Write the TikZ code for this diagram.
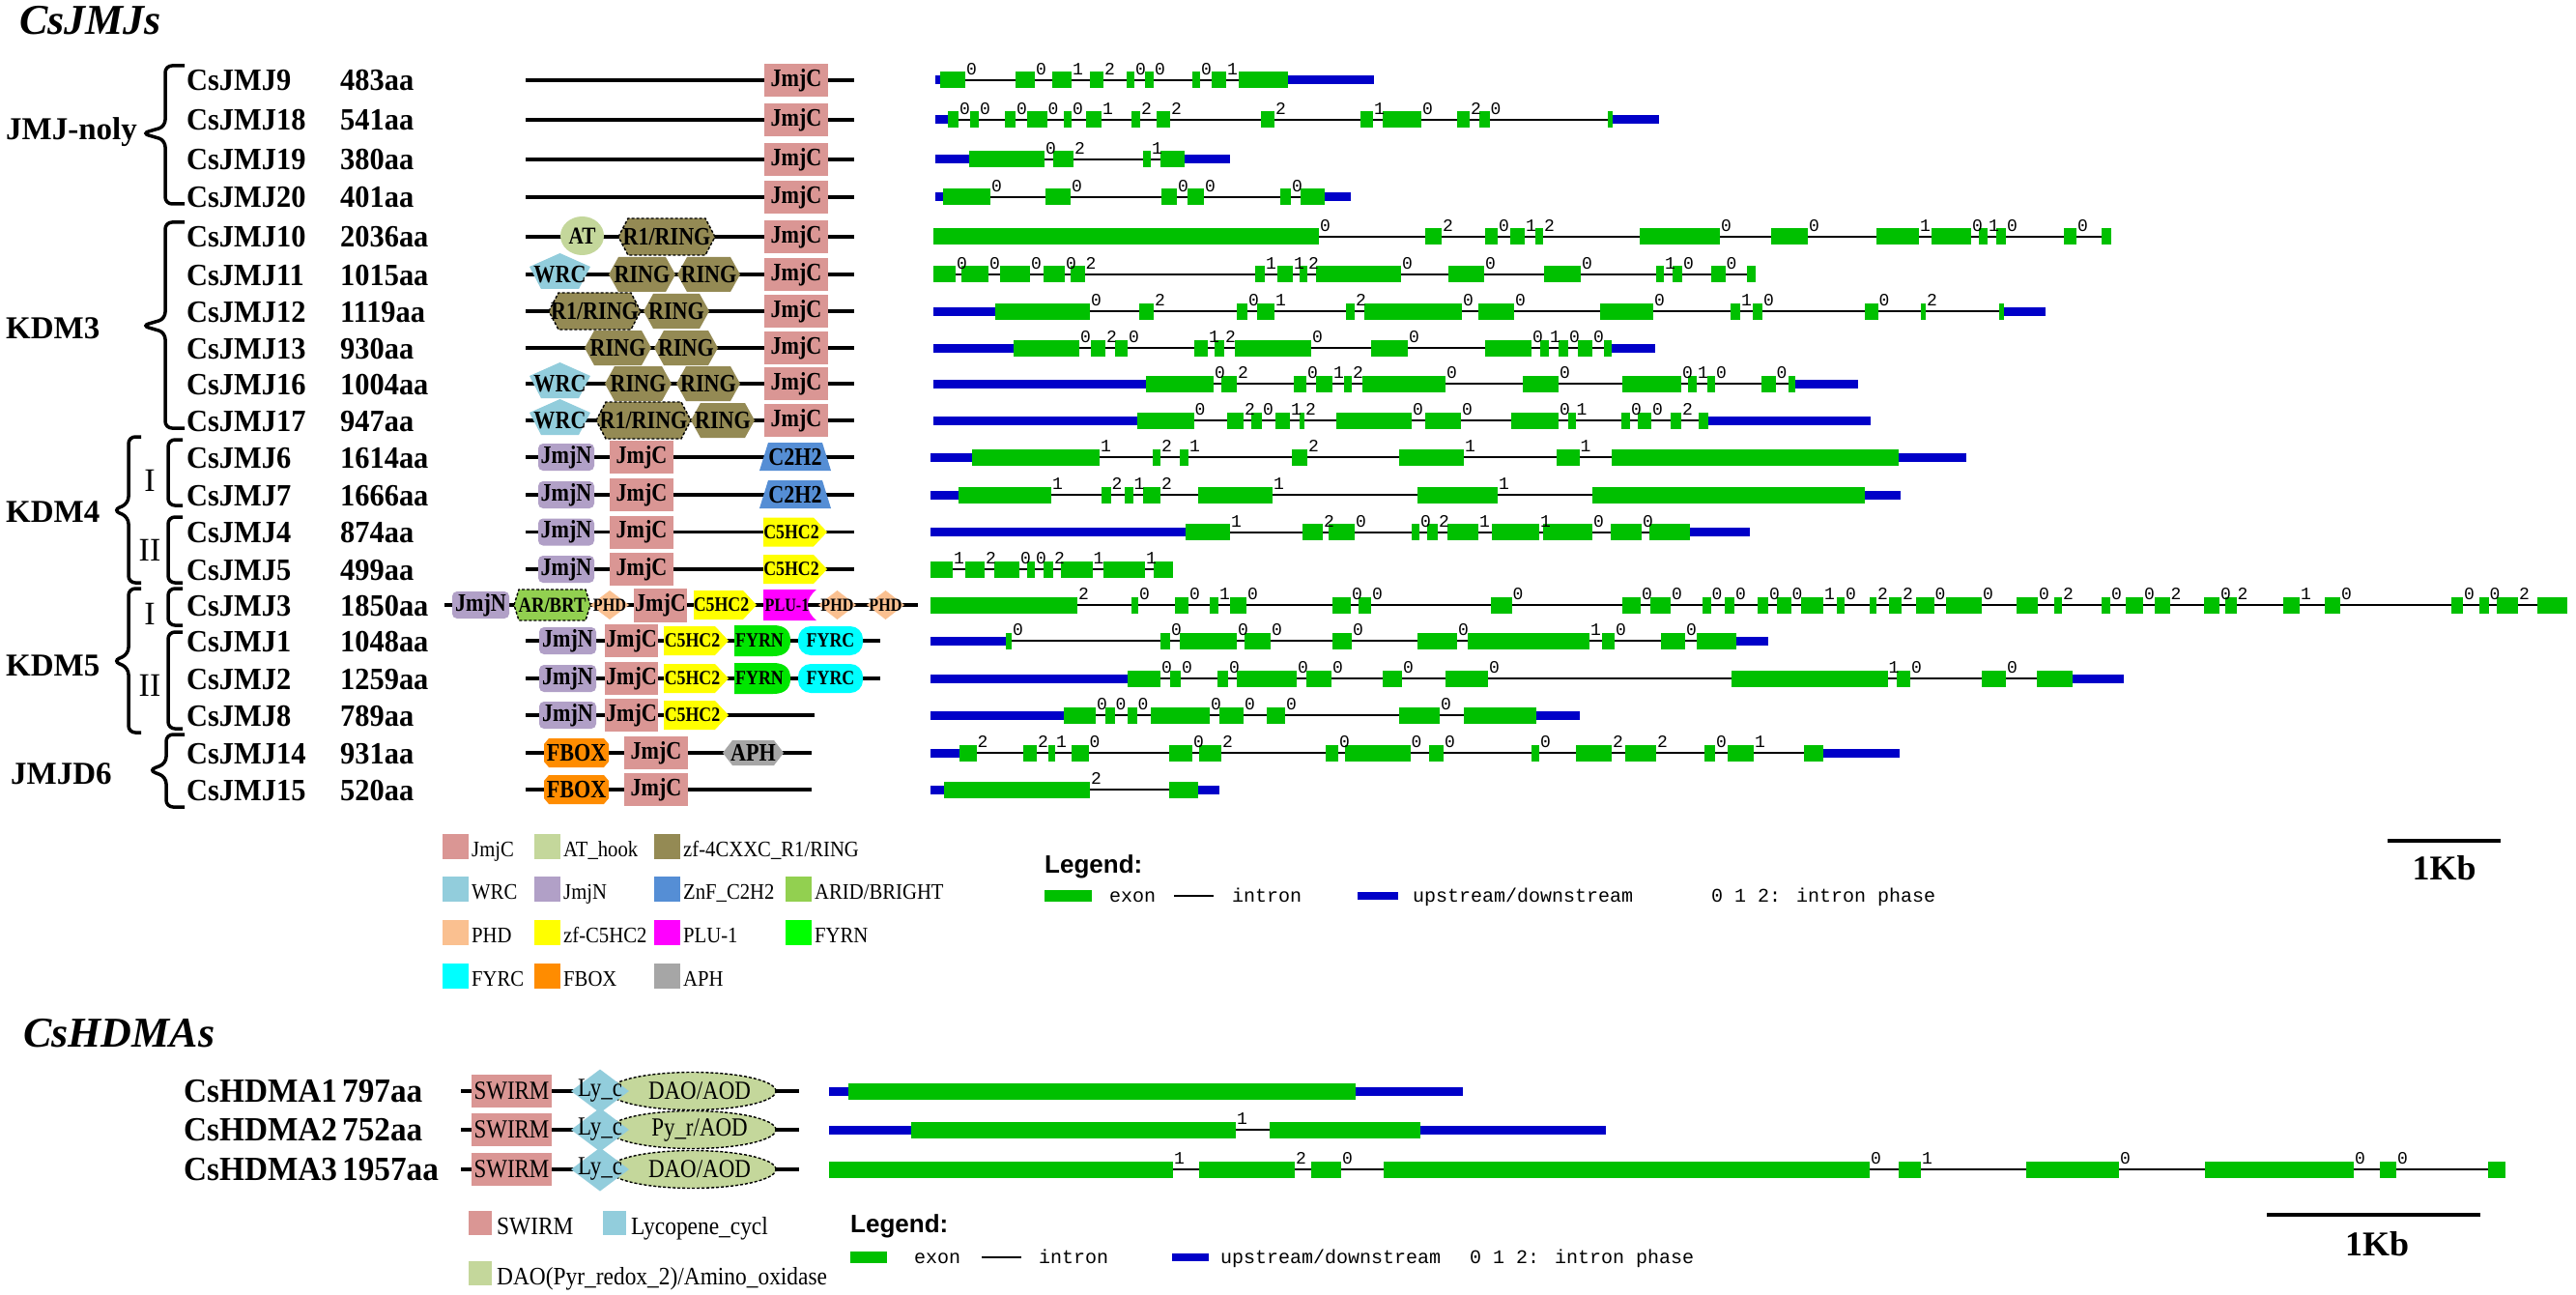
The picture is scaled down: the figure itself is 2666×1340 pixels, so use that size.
\documentclass[tikz,border=0pt]{standalone}
\usepackage{fontspec}
\setmainfont{Liberation Serif}
\newfontfamily\genefont[FakeStretch=0.95]{Liberation Serif}
\newfontfamily\domfont[FakeStretch=0.85]{Liberation Serif}
\newfontfamily\legfont[FakeStretch=0.9]{Liberation Serif}
\newfontfamily\phfont{Liberation Mono}
\newfontfamily\legsans{Liberation Sans}
\usetikzlibrary{shapes.geometric}
\newcommand\fsz[1]{\fontsize{#1}{#1}\selectfont}
\definecolor{cJmjC}{HTML}{DA9694}
\definecolor{cAT}{HTML}{C4D79B}
\definecolor{cRING}{HTML}{948A54}
\definecolor{cWRC}{HTML}{92CDDC}
\definecolor{cJmjN}{HTML}{B1A0C7}
\definecolor{cC2H2}{HTML}{558ED5}
\definecolor{cARID}{HTML}{92D050}
\definecolor{cPHD}{HTML}{FAC090}
\definecolor{cC5}{HTML}{FFFF00}
\definecolor{cPLU}{HTML}{FF00FF}
\definecolor{cFYRN}{HTML}{00E600}
\definecolor{cFYRNl}{HTML}{00FF00}
\definecolor{cFYRC}{HTML}{00FFFF}
\definecolor{cFBOX}{HTML}{FF8C00}
\definecolor{cAPH}{HTML}{A6A6A6}
\definecolor{cExon}{HTML}{00C000}
\definecolor{cUTR}{HTML}{0000C8}
% domain shapes
\newcommand\bbone[4]{\coordinate (#1s) at (#2,#4); \coordinate (#1e) at (#3,#4); \draw[bbline] (#1s) -- (#1e);}
\newcommand\dRect[7]{\path[#1] (#3,#5-#6) rectangle (#4,#5+#6); \node[lab] (#2) at ({(#3+#4)/2},#5) {#7};}
\newcommand\dHex[8]{\path[#1] (#3,#5) -- (#3+#7,#5-#6) -- (#4-#7,#5-#6) -- (#4,#5) -- (#4-#7,#5+#6) -- (#3+#7,#5+#6) -- cycle; \node[lab] (#2) at ({(#3+#4)/2},#5) {#8};}
\newcommand\dPent[5]{\path[fill=cWRC] ({(#2+#3)/2},#4-22) -- (#3,#4-8) -- ({#3-0.19*(#3-#2)},#4+15) -- ({#2+0.19*(#3-#2)},#4+15) -- (#2,#4-8) -- cycle; \node[lab] (#1) at ({(#2+#3)/2},#4) {#5};}
\newcommand\dDia[7]{\path[#1] (#3,#5) -- ({(#3+#4)/2},#5-#6) -- (#4,#5) -- ({(#3+#4)/2},#5+#6) -- cycle; \node[lab] (#2) at ({(#3+#4)/2},#5) {#7};}
\newcommand\dSig[6]{\path[fill=cC5] (#2,#4-#5) -- (#3-14,#4-#5) -- (#3,#4) -- (#3-14,#4+#5) -- (#2,#4+#5) -- cycle; \node[lab] (#1) at ({(#2+#3)/2-4},#4) {\fsz{21}#6};}
\newcommand\dTrap[5]{\path[fill=cC2H2] (#2+9,#4-15) -- (#3-9,#4-15) -- (#3,#4+14) -- (#2,#4+14) -- cycle; \node[lab] (#1) at ({(#2+#3)/2},#4) {#5};}
\newcommand\dPlu[5]{\path[fill=cPLU] (#2,#4-16) -- (#3,#4-16) .. controls (#3-12,#4-6) and (#3-12,#4+6) .. (#3,#4+16) -- (#2,#4+16) -- cycle; \node[lab] (#1) at ({(#2+#3)/2-3},#4) {\fsz{19}#5};}
\newcommand\dFyrn[5]{\path[fill=cFYRN] (#2,#4-16) -- (#3-18,#4-16) .. controls (#3-3,#4-16) and (#3,#4-8) .. (#3,#4) .. controls (#3,#4+8) and (#3-3,#4+16) .. (#3-18,#4+16) -- (#2,#4+16) -- cycle; \node[lab] (#1) at ({(#2+#3)/2-3},#4) {\fsz{21}#5};}
\newcommand\dFyrc[5]{\path[fill=cFYRC, rounded corners=13pt] (#2,#4-15) rectangle (#3,#4+15); \node[lab] (#1) at ({(#2+#3)/2},#4) {\fsz{21}#5};}
\newcommand\dFbox[5]{\path[fill=cFBOX] (#2+5,#4-15) -- (#3-5,#4-15) -- (#3,#4-9) -- (#3,#4+9) -- (#3-5,#4+15) -- (#2+5,#4+15) -- (#2,#4+9) -- (#2,#4-9) -- cycle; \node[lab] (#1) at ({(#2+#3)/2},#4) {#5};}
\newcommand\hdom[3]{%
  \coordinate (hb#1s) at (477,#2); \coordinate (hb#1e) at (827,#2);
  \draw[bbline] (hb#1s) -- (hb#1e);
  \fill[cJmjC] (488,#2-17) rectangle (571,#2+17);
  \node[hlab] (hs#1) at (529.5,#2) {SWIRM};
  \node[ellipse, fill=cAT, dashedb, minimum width=173, minimum height=39, inner sep=0pt] (he#1) at (716.5,#2) {};
  \fill[cWRC] (591,#2) -- (621,#2-22.5) -- (651,#2) -- (621,#2+22.5) -- cycle;
  \node[hlab] (hl#1) at (621,#2) {Ly\_c};
  \node[hlab] (hd#1) at (724,#2) {#3};}
% gene structure
\newcommand\gene[6]{%
  \coordinate (#1s) at (#3,#2); \coordinate (#1e) at (#4,#2);
  \draw[intron] (#1s) -- (#1e);
  \foreach \a/\b in {#5} {\fill[cUTR] (\a,#2-4.5) rectangle (\b,#2+4.5);}
  \foreach \a/\b/\p in {#6} {\fill[cExon] (\a,#2-8.5) rectangle (\b,#2+8.5);}
  \foreach \a/\b/\p [count=\k] in {#6} {\node[phase] (#1p\k) at (\b+6.5,#2-5) {\p};}
}
\newcommand\gn[4]{\node[gname] (n#1) at (193,#2+11) {#3}; \node[gname] (a#1) at (352,#2+11) {#4};}
\newcommand\lsq[5]{\fill[#2] (#3,#4-13) rectangle (#3+27,#4+13); \node[legtxt] (#1) at (#3+30,#4+10) {#5};}
\newcommand\lsqH[5]{\fill[#2] (#3,#4-12.5) rectangle (#3+24,#4+12.5); \node[legtxtH] (#1) at (#3+29,#4+12) {#5};}
\begin{document}
\begin{tikzpicture}[x=1pt,y=-1pt,
  lab/.style={inner sep=0pt, font=\domfont\bfseries\fsz{26}},
  hlab/.style={inner sep=0pt, font=\domfont\fsz{27}},
  bbline/.style={line width=3.5pt, black},
  intron/.style={line width=2pt, black},
  brc/.style={line width=3.5pt, rounded corners=7pt},
  phase/.style={inner sep=0pt, anchor=south, font=\phfont\fsz{18}},
  dashedb/.style={draw=black, line width=1.4pt, dash pattern=on 3pt off 2pt},
  gname/.style={anchor=base west, inner sep=0pt, font=\genefont\bfseries\fsz{32}},
  hname/.style={anchor=base west, inner sep=0pt, font=\genefont\bfseries\fsz{35}},
  grp/.style={anchor=base west, inner sep=0pt, font=\bfseries\fsz{33}},
  rom/.style={anchor=base, inner sep=0pt, font=\fsz{34}},
  legtxt/.style={anchor=base west, inner sep=0pt, font=\legfont\fsz{23}},
  legtxtH/.style={anchor=base west, inner sep=0pt, font=\legfont\fsz{26}},
  leghead/.style={anchor=base west, inner sep=0pt, font=\legsans\bfseries\fsz{26}},
  legm/.style={anchor=base west, inner sep=0pt, font=\phfont\fsz{20}},
  kb/.style={inner sep=0pt, font=\bfseries\fsz{36}}]
\useasboundingbox (0,0) rectangle (2666,1340);
\fill[white] (0,0) rectangle (2666,1340);
% titles
\node[anchor=base west, inner sep=0pt, font=\bfseries\itshape\fsz{44}] (t1) at (20,36) {CsJMJs};
\node[anchor=base west, inner sep=0pt, font=\bfseries\itshape\fsz{44}] (t2) at (24,1083) {CsHDMAs};
% group labels
\node[grp] (gA) at (6,145) {JMJ-noly};
\node[grp] (gB) at (6,350) {KDM3};
\node[grp] (gC) at (6,540) {KDM4};
\node[grp] (gD) at (6,699) {KDM5};
\node[grp] (gE) at (11,811) {JMJD6};
\node[rom] (r1) at (155,508) {I};
\node[rom] (r2) at (155,580) {II};
\node[rom] (r3) at (155,646) {I};
\node[rom] (r4) at (155,720) {II};
% braces
\draw[brc] (191,68) -- (171,68) -- (171,131) -- (147,138) -- (171,145) -- (171,211) -- (191,211);
\draw[brc] (191,230) -- (171,230) -- (171,330) -- (147,337) -- (171,344) -- (171,443) -- (191,443);
\draw[brc] (146,452) -- (133,452) -- (133,521) -- (117,528) -- (133,535) -- (133,603) -- (146,603);
\draw[brc] (189,455) -- (174,455) -- (174,523) -- (189,523);
\draw[brc] (189,535) -- (174,535) -- (174,603) -- (189,603);
\draw[brc] (146,609) -- (133,609) -- (133,677) -- (117,684) -- (133,691) -- (133,758) -- (146,758);
\draw[brc] (189,609) -- (174,609) -- (174,647) -- (189,647);
\draw[brc] (189,654) -- (174,654) -- (174,754) -- (189,754);
\draw[brc] (191,760) -- (172,760) -- (172,790) -- (154,797) -- (172,804) -- (172,835) -- (191,835);
% gene names
\gn{0}{83}{CsJMJ9}{483aa}
\gn{1}{124}{CsJMJ18}{541aa}
\gn{2}{165}{CsJMJ19}{380aa}
\gn{3}{204}{CsJMJ20}{401aa}
\gn{4}{245}{CsJMJ10}{2036aa}
\gn{5}{284}{CsJMJ11}{1015aa}
\gn{6}{322}{CsJMJ12}{1119aa}
\gn{7}{360}{CsJMJ13}{930aa}
\gn{8}{397}{CsJMJ16}{1004aa}
\gn{9}{435}{CsJMJ17}{947aa}
\gn{10}{473}{CsJMJ6}{1614aa}
\gn{11}{512}{CsJMJ7}{1666aa}
\gn{12}{550.5}{CsJMJ4}{874aa}
\gn{13}{589}{CsJMJ5}{499aa}
\gn{14}{626}{CsJMJ3}{1850aa}
\gn{15}{663}{CsJMJ1}{1048aa}
\gn{16}{702}{CsJMJ2}{1259aa}
\gn{17}{740}{CsJMJ8}{789aa}
\gn{18}{779}{CsJMJ14}{931aa}
\gn{19}{817}{CsJMJ15}{520aa}
% domains
\bbone{b0}{544}{884}{83} \dRect{fill=cJmjC}{d0a}{791}{857}{83}{17}{JmjC}
\bbone{b1}{544}{884}{124} \dRect{fill=cJmjC}{d1a}{791}{857}{124}{17}{JmjC}
\bbone{b2}{544}{884}{165} \dRect{fill=cJmjC}{d2a}{791}{857}{165}{17}{JmjC}
\bbone{b3}{544}{884}{204} \dRect{fill=cJmjC}{d3a}{791}{857}{204}{17}{JmjC}
\bbone{b4}{544}{884}{245}
\node[ellipse, fill=cAT, minimum width=45, minimum height=40, inner sep=0pt, font=\domfont\bfseries\fsz{25}] (d4a) at (602.5,244) {AT};
\dHex{fill=cRING,dashedb}{d4b}{640}{740}{245}{19}{10}{R1/RING}
\dRect{fill=cJmjC}{d4c}{791}{857}{245}{17}{JmjC}
\bbone{b5}{544}{884}{284}
\dPent{d5a}{548}{611}{284}{WRC}
\dHex{fill=cRING}{d5b}{630}{699}{284}{18}{10}{RING}
\dHex{fill=cRING}{d5c}{701}{766}{284}{18}{10}{RING}
\dRect{fill=cJmjC}{d5d}{791}{857}{284}{17}{JmjC}
\bbone{b6}{544}{884}{322}
\dHex{fill=cRING,dashedb}{d6a}{568}{663}{322}{19}{10}{R1/RING}
\dHex{fill=cRING}{d6b}{666}{734}{322}{18}{10}{RING}
\dRect{fill=cJmjC}{d6c}{791}{857}{322}{17}{JmjC}
\bbone{b7}{544}{884}{360}
\dHex{fill=cRING}{d7a}{605}{674}{360}{18}{10}{RING}
\dHex{fill=cRING}{d7b}{677}{743}{360}{18}{10}{RING}
\dRect{fill=cJmjC}{d7c}{791}{857}{360}{17}{JmjC}
\bbone{b8}{544}{884}{397}
\dPent{d8a}{548}{611}{397}{WRC}
\dHex{fill=cRING}{d8b}{626}{695}{397}{18}{10}{RING}
\dHex{fill=cRING}{d8c}{700}{766}{397}{18}{10}{RING}
\dRect{fill=cJmjC}{d8d}{791}{857}{397}{17}{JmjC}
\bbone{b9}{544}{884}{435}
\dPent{d9a}{548}{611}{435}{WRC}
\dHex{fill=cRING,dashedb}{d9b}{617}{715}{435}{19}{10}{R1/RING}
\dHex{fill=cRING}{d9c}{715}{781}{435}{18}{10}{RING}
\dRect{fill=cJmjC}{d9d}{791}{857}{435}{17}{JmjC}
\bbone{b10}{544}{884}{473}
\dRect{fill=cJmjN,rounded corners=5pt}{d10a}{557}{615}{473}{14}{JmjN}
\dRect{fill=cJmjC}{d10b}{631}{697}{473}{17}{JmjC}
\dTrap{d10c}{786}{860}{473}{C2H2}
\bbone{b11}{544}{884}{512}
\dRect{fill=cJmjN,rounded corners=5pt}{d11a}{557}{615}{512}{14}{JmjN}
\dRect{fill=cJmjC}{d11b}{631}{697}{512}{17}{JmjC}
\dTrap{d11c}{786}{860}{512}{C2H2}
\bbone{b12}{544}{884}{550.5}
\dRect{fill=cJmjN,rounded corners=5pt}{d12a}{557}{615}{550.5}{14}{JmjN}
\dRect{fill=cJmjC}{d12b}{631}{697}{550.5}{17}{JmjC}
\dSig{d12c}{790}{856}{550.5}{15}{C5HC2}
\bbone{b13}{544}{884}{589}
\dRect{fill=cJmjN,rounded corners=5pt}{d13a}{557}{615}{589}{14}{JmjN}
\dRect{fill=cJmjC}{d13b}{631}{697}{589}{17}{JmjC}
\dSig{d13c}{790}{856}{589}{15}{C5HC2}
\bbone{b14}{460}{950}{626}
\dRect{fill=cJmjN,rounded corners=5pt}{d14a}{468}{527}{626}{14}{JmjN}
\dHex{fill=cARID,dashedb}{d14b}{532}{611}{626}{16}{5}{\fsz{22}AR/BRT}
\dDia{fill=cPHD}{d14c}{611}{651}{626}{15}{\fsz{19}PHD}
\dRect{fill=cJmjC}{d14d}{656}{711}{626}{17.5}{JmjC}
\dSig{d14e}{718}{783}{626}{15}{C5HC2}
\dPlu{d14f}{790}{845}{626}{PLU-1}
\dDia{fill=cPHD}{d14g}{847}{886}{626}{15}{\fsz{19}PHD}
\dDia{fill=cPHD}{d14h}{897}{936}{626}{15}{\fsz{19}PHD}
\bbone{b15}{544}{911}{663}
\dRect{fill=cJmjN,rounded corners=5pt}{d15a}{558}{617}{663}{14}{JmjN}
\dRect{fill=cJmjC}{d15b}{626}{681}{663}{17}{JmjC}
\dSig{d15c}{687}{754}{663}{15}{C5HC2}
\dFyrn{d15d}{760}{818}{663}{FYRN}
\dFyrc{d15e}{826}{893}{663}{FYRC}
\bbone{b16}{544}{911}{702}
\dRect{fill=cJmjN,rounded corners=5pt}{d16a}{558}{617}{702}{14}{JmjN}
\dRect{fill=cJmjC}{d16b}{626}{681}{702}{17}{JmjC}
\dSig{d16c}{687}{754}{702}{15}{C5HC2}
\dFyrn{d16d}{760}{818}{702}{FYRN}
\dFyrc{d16e}{826}{893}{702}{FYRC}
\bbone{b17}{544}{843}{740}
\dRect{fill=cJmjN,rounded corners=5pt}{d17a}{558}{617}{740}{14}{JmjN}
\dRect{fill=cJmjC}{d17b}{626}{681}{740}{17}{JmjC}
\dSig{d17c}{687}{754}{740}{15}{C5HC2}
\bbone{b18}{544}{840}{779}
\dFbox{d18a}{563}{630}{779}{FBOX}
\dRect{fill=cJmjC}{d18b}{646}{712}{779}{17}{JmjC}
\dHex{fill=cAPH}{d18c}{748}{811}{779}{13}{10}{APH}
\bbone{b19}{544}{840}{817}
\dFbox{d19a}{563}{630}{817}{FBOX}
\dRect{fill=cJmjC}{d19b}{646}{712}{817}{17}{JmjC}
% gene structures CsJMJs
\gene{g0}{83}{967.5}{1422}{967.5/973, 1333/1422}{973/999/0, 1051/1071/0, 1089/1109/1, 1128/1142/2, 1166/1174/0, 1185/1194/0, 1234/1242/0, 1254/1269/1, 1282/1333/{}}
\gene{g1}{124}{967.5}{1717}{967.5/981, 1669/1717}{981/992/0, 1004/1013/0, 1040/1051/0, 1063/1083.5/0, 1101/1109/0, 1124/1140/1, 1171/1180/2, 1197/1211/2, 1304.5/1319/2, 1408/1421/1, 1431/1471/0, 1508/1521/2, 1531/1541.5/0, 1664/1669/{}}
\gene{g2}{165}{967.5}{1273}{967.5/1003, 1226/1273}{1003/1081/0, 1090/1111/2, 1183/1191/1, 1201/1226/{}}
\gene{g3}{204}{967.5}{1398}{967.5/976, 1370.5/1398}{976/1025/0, 1082/1108/0, 1202/1218/0, 1229/1246/0, 1325/1336/0, 1346/1370.5/{}}
\gene{g4}{245}{966}{2185}{970/980}{966/1365/0, 1475/1492/2, 1537/1550/0, 1563/1578/1, 1589/1597/2, 1697/1780/0, 1833/1871/0, 1942/1986/1, 1999/2040/0, 2048/2057/1, 2066/2076/0, 2136/2149/0, 2175/2185/{}}
\gene{g5}{284}{966}{1817}{970/980}{966/989/0, 994.5/1023/0, 1035/1066/0, 1079.5/1102/0, 1108/1122.5/2, 1299/1309/1, 1322/1338/1, 1345/1353/2, 1362/1450/0, 1498.5/1536/0, 1598/1636/0, 1714/1722/1, 1731/1741/0, 1771/1785.5/0, 1808/1817/{}}
\gene{g6}{322}{966}{2117}{966/1030, 2074/2117}{1030/1128/0, 1179/1194/2, 1280/1291/0, 1300.5/1319/1, 1393/1402/2, 1412/1513/0, 1529.5/1567/0, 1656/1711/0, 1791/1801/1, 1814/1824/0, 1930/1943.5/0, 1988/1993/2, 2069/2074/{}}
\gene{g7}{360}{966}{1713}{966/1049, 1668/1713}{1049/1117/0, 1129/1144/2, 1154/1167/0, 1236/1250/1, 1257/1267/2, 1277.5/1357/0, 1419/1457/0, 1537/1585/0, 1594/1603/1, 1613/1623/0, 1633/1648/0, 1660/1668/{}}
\gene{g8}{397}{966}{1922.5}{966/1186, 1858/1922.5}{1186/1256/0, 1264/1280/2, 1339/1352/0, 1362/1379/1, 1390.5/1399/2, 1409.5/1496/0, 1575.5/1613/0, 1679/1740/0, 1746.5/1756/1, 1766.5/1775/0, 1823/1837.5/0, 1851/1858/{}}
\gene{g9}{435}{966}{1936}{966/1176.5, 1768/1936}{1176.5/1235.5/0, 1270/1287/2, 1295/1306/0, 1320/1335/1, 1345/1350/2, 1383/1461/0, 1475/1512/0, 1564/1613/0, 1623/1630.5/1, 1678/1687/0, 1695/1709/0, 1729/1740/2, 1758/1768/{}}
\gene{g10}{473}{963}{2034.6}{963/1006, 1964.5/2034.6}{1006/1138/1, 1192.5/1201/2, 1221/1230/1, 1337/1353/2, 1448/1515/1, 1610.5/1634.5/1, 1668/1964.5/{}}
\gene{g11}{512}{963}{1967}{963/992, 1930/1967}{992/1088/1, 1140/1149.5/2, 1164/1172.5/1, 1183/1201/2, 1240/1317/1, 1467/1550/1, 1648/1930/{}}
\gene{g12}{550.5}{963}{1811}{963/1227, 1749/1811}{1227/1273/1, 1347.5/1369/2, 1374.5/1402/0, 1461/1469/0, 1477/1488/2, 1498/1530/1, 1544/1593/1, 1597/1648/0, 1667/1699/0, 1707/1749/{}}
\gene{g13}{589}{963}{1214}{966/976}{963/986/1, 998.5/1019/2, 1029/1055/0, 1063/1071/0, 1079.5/1090/2, 1098/1130.5/1, 1142/1185/1, 1194/1214/{}}
\gene{g14}{626}{963}{2657}{970/980}{963/1115/2, 1171/1178/0, 1215.5/1230/0, 1252/1261/1, 1273/1290/0, 1379/1398/0, 1406/1419/0, 1543/1564.5/0, 1679/1698/0, 1708/1729/0, 1762/1770.5/0, 1785/1795/0, 1819/1830/0, 1839/1853.5/0, 1863.5/1887/1, 1900.5/1909/0, 1935/1942/2, 1954.5/1968/2, 1983/2001.5/0, 2013.5/2051/0, 2087/2109/0, 2125.5/2134/2, 2175/2184/0, 2200/2218/0, 2229.5/2245.5/2, 2281/2297/0, 2303/2314.5/2, 2363/2380/1, 2405.5/2422/0, 2537/2549/0, 2565.5/2575.5/0, 2584/2606/2, 2626/2657/{}}
\gene{g15}{663}{963}{1830}{963/1040.5, 1797/1830}{1040.5/1047/0, 1201/1211/0, 1221/1280/0, 1288/1315/0, 1379/1399/0, 1467/1508/0, 1518.5/1645/1, 1657.5/1671/0, 1719/1744/0, 1756/1797/{}}
\gene{g16}{702}{963}{2197.5}{963/1167, 2145/2197.5}{1167/1201/0, 1211/1222/0, 1260/1271/0, 1280/1342/0, 1352/1378/0, 1431/1451/0, 1496/1540/0, 1792/1953.5/1, 1963/1977/0, 2051/2076/0, 2107.5/2145/{}}
\gene{g17}{740}{963}{1634.5}{963/1101, 1590/1634.5}{1101/1134/0, 1144/1153.5/0, 1167/1176.5/0, 1191/1252/0, 1261.5/1287/0, 1311/1330/0, 1448/1490/0, 1515/1590/{}}
\gene{g18}{779}{963}{1966}{963/993, 1887/1966}{993/1010.6/2, 1059/1073/2, 1084.6/1092/1, 1109/1126.5/0, 1210/1234/0, 1241/1264/2, 1372/1385/0, 1392/1459.5/0, 1478.5/1494/0, 1584.6/1593/0, 1630.5/1668/2, 1682/1714/2, 1764/1775/0, 1788/1815/1, 1867/1887/{}}
\gene{g19}{817}{963}{1261.5}{963/977, 1240/1261.5}{977/1128/2, 1210/1240/{}}
% domain legend
\lsq{L1}{cJmjC}{458}{876}{JmjC}
\lsq{L2}{cAT}{553}{876}{AT\_hook}
\lsq{L3}{cRING}{677}{876}{zf-4CXXC\_R1/RING}
\lsq{L4}{cWRC}{458}{920}{WRC}
\lsq{L5}{cJmjN}{553}{920}{JmjN}
\lsq{L6}{cC2H2}{677}{920}{ZnF\_C2H2}
\lsq{L7}{cARID}{813}{920}{ARID/BRIGHT}
\lsq{L8}{cPHD}{458}{965}{PHD}
\lsq{L9}{cC5}{553}{965}{zf-C5HC2}
\lsq{L10}{cPLU}{677}{965}{PLU-1}
\lsq{L11}{cFYRNl}{813}{965}{FYRN}
\lsq{L12}{cFYRC}{458}{1010}{FYRC}
\lsq{L13}{cFBOX}{553}{1010}{FBOX}
\lsq{L14}{cAPH}{677}{1010}{APH}
% gene legend CsJMJs
\node[leghead] (lg1) at (1081,903) {Legend:};
\fill[cExon] (1081,921) rectangle (1130,933);
\node[legm] (lg1a) at (1148,933) {exon};
\coordinate (li1a) at (1215,927); \coordinate (li1b) at (1256,927);
\draw[line width=2.5pt] (li1a) -- (li1b);
\node[legm] (lg1b) at (1275,933) {intron};
\fill[cUTR] (1405,923) rectangle (1447,931);
\node[legm] (lg1c) at (1462,933) {upstream/downstream};
\node[legm] (lg1d) at (1771,933) {0 1 2: intron phase};
\coordinate (sb1a) at (2471,870); \coordinate (sb1b) at (2588,870);
\draw[line width=4pt] (sb1a) -- (sb1b);
\node[kb] (kb1) at (2529.5,898) {1Kb};
% CsHDMAs
\node[hname] (h1n) at (190,1140) {CsHDMA1}; \node[hname] (h1a) at (354,1140) {797aa};
\node[hname] (h2n) at (190,1180) {CsHDMA2}; \node[hname] (h2a) at (354,1180) {752aa};
\node[hname] (h3n) at (190,1221) {CsHDMA3}; \node[hname] (h3a) at (354,1221) {1957aa};
\hdom{1}{1129}{DAO/AOD}
\hdom{2}{1169}{Py\_r/AOD}
\hdom{3}{1210}{DAO/AOD}
\gene{h1}{1129}{858}{1514}{858/878, 1403/1514}{878/1403/{}}
\gene{h2}{1169}{858}{1662}{858/943, 1470/1662}{943/1279/1, 1314/1470/{}}
\gene{h3}{1210}{858}{2593}{862/870}{858/1214/1, 1241/1340/2, 1357/1388/0, 1432/1935/0, 1965/1988/1, 2097/2193/0, 2282/2436/0, 2463/2480/0, 2575/2593/{}}
% HDMA legends
\lsqH{H1}{cJmjC}{485}{1265.5}{SWIRM}
\lsqH{H2}{cWRC}{624}{1265.5}{Lycopene\_cycl}
\lsqH{H3}{cAT}{485}{1317.5}{DAO(Pyr\_redox\_2)/Amino\_oxidase}
\node[leghead] (lg2) at (880,1275) {Legend:};
\fill[cExon] (880,1295) rectangle (918,1307);
\node[legm] (lg2a) at (946,1307) {exon};
\coordinate (li2a) at (1016,1301); \coordinate (li2b) at (1057,1301);
\draw[line width=2.5pt] (li2a) -- (li2b);
\node[legm] (lg2b) at (1075,1307) {intron};
\fill[cUTR] (1213,1297) rectangle (1251,1305);
\node[legm] (lg2c) at (1263,1307) {upstream/downstream};
\node[legm] (lg2d) at (1521,1307) {0 1 2: intron phase};
\coordinate (sb2a) at (2346,1257); \coordinate (sb2b) at (2567,1257);
\draw[line width=4pt] (sb2a) -- (sb2b);
\node[kb] (kb2) at (2460,1287) {1Kb};
\end{tikzpicture}
\end{document}
